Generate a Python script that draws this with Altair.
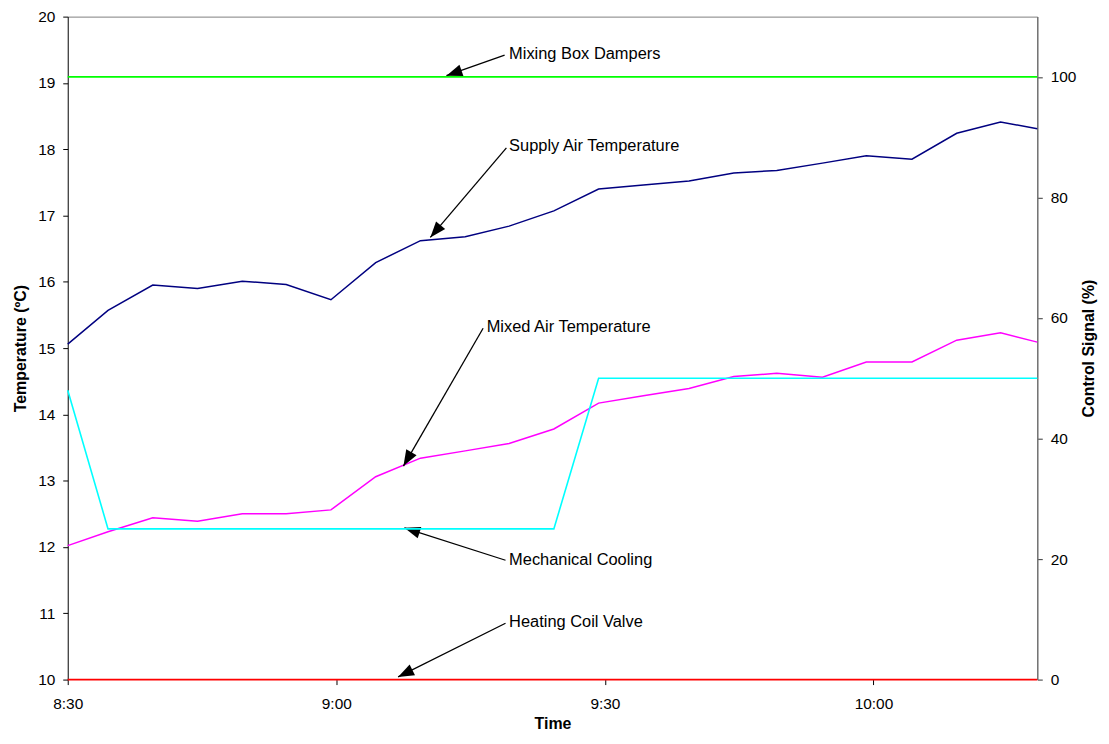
import altair as alt
import numpy as np
import pandas as pd

# ---------------- data ----------------
minutes = [0, 4.5, 9.5, 14.5, 19.5, 24.4, 29.4, 34.4, 39.4, 44.4, 49.3, 54.3,
           59.3, 64.3, 69.4, 74.4, 79.2, 84.3, 89.2, 94.3, 99.3, 104.2, 108.3]
supply = [15.06, 15.57, 15.95, 15.90, 16.01, 15.96, 15.73, 16.29, 16.62, 16.68, 16.84, 17.07,
          17.40, 17.46, 17.52, 17.64, 17.68, 17.79, 17.90, 17.85, 18.24, 18.41, 18.31]
mixed = [12.02, 12.23, 12.44, 12.39, 12.50, 12.50, 12.56, 13.06, 13.34, 13.45, 13.56, 13.78,
         14.17, 14.28, 14.39, 14.57, 14.62, 14.56, 14.79, 14.79, 15.12, 15.23, 15.09]
cooling = [48, 25, 25, 25, 25, 25, 25, 25, 25, 25, 25, 25,
           50, 50, 50, 50, 50, 50, 50, 50, 50, 50, 50]
dampers = [100, 100, 100, 100, 100, 100, 100, 100, 100, 100, 100, 100,
           100, 100, 100, 100, 100, 100, 100, 100, 100, 100, 100]
heating = [0, 0, 0, 0, 0, 0, 0, 0, 0, 0, 0, 0,
           0, 0, 0, 0, 0, 0, 0, 0, 0, 0, 0]

series_names = ["Supply Air Temperature", "Mixed Air Temperature",
                "Mixing Box Dampers", "Mechanical Cooling", "Heating Coil Valve"]
series_colors = ["#000080", "#FF00FF", "#00FF00", "#00FFFF", "#FF0000"]

ann_labels = ["Mixing Box Dampers", "Supply Air Temperature", "Mixed Air Temperature",
              "Mechanical Cooling", "Heating Coil Valve"]
ann_text_min = [49.3, 49.3, 46.8, 49.3, 49.3]
ann_text_temp = [19.44, 18.05, 15.32, 11.80, 10.87]
ann_tail_min = [48.8, 49.0, 46.4, 48.9, 48.9]
ann_tail_temp = [19.42, 18.02, 15.30, 11.80, 10.85]
ann_tip_min = [42.3, 40.5, 37.5, 37.6, 36.9]
ann_tip_temp = [19.11, 16.67, 13.22, 12.29, 10.04]

start_clock = "2000-01-01 08:30:00"
x_tick_minutes = [0, 30, 60, 90]
x_end_minute = 108.3
temp_domain = [10, 20]
temp_ticks = [10, 11, 12, 13, 14, 15, 16, 17, 18, 19, 20]
signal_domain = [0, 110]
signal_ticks = [0, 20, 40, 60, 80, 100]

# ---------------- layout ----------------
W, H = 974, 666
FONT = "Liberation Sans"

base = pd.Timestamp(start_clock)


def to_iso(m):
    return (base + pd.to_timedelta(m, unit="m")).strftime("%Y-%m-%dT%H:%M:%S")


def to_dt(m):
    ts = base + pd.to_timedelta(m, unit="m")
    return alt.DateTime(year=ts.year, month=ts.month, date=ts.day,
                        hours=ts.hour, minutes=ts.minute, seconds=ts.second)


times = [to_iso(m) for m in minutes]

left_df = pd.DataFrame({
    "t": times * 2,
    "value": supply + mixed,
    "series": [series_names[0]] * len(times) + [series_names[1]] * len(times),
})
right_df = pd.DataFrame({
    "t": times * 3,
    "value": dampers + cooling + heating,
    "series": [series_names[2]] * len(times) + [series_names[3]] * len(times)
    + [series_names[4]] * len(times),
})

# arrow-head angles in screen space
pxm = W / x_end_minute
pxt = H / (temp_domain[1] - temp_domain[0])
angles = []
for a, b, c, d in zip(ann_tail_min, ann_tail_temp, ann_tip_min, ann_tip_temp):
    dx = (c - a) * pxm
    dy = -(d - b) * pxt
    angles.append(float(np.degrees(np.arctan2(dx, -dy)) % 360))

ann_df = pd.DataFrame({
    "label": ann_labels,
    "t": [to_iso(m) for m in ann_text_min],
    "value": ann_text_temp,
    "ax": [to_iso(m) for m in ann_tail_min],
    "ay": ann_tail_temp,
    "bx": [to_iso(m) for m in ann_tip_min],
    "by": ann_tip_temp,
    "angle": angles,
})

x_domain = [to_dt(0), to_dt(x_end_minute)]
x_scale = alt.Scale(domain=x_domain, nice=False)
y_scale = alt.Scale(domain=temp_domain, nice=False, zero=False)
color = alt.Color("series:N", scale=alt.Scale(domain=series_names, range=series_colors),
                  legend=None)

x_axis = alt.Axis(values=[to_dt(m) for m in x_tick_minutes], format="%-H:%M", title="Time",
                  tickSize=5, labelPadding=12, titlePadding=4, labelFlush=False,
                  labelFontSize=15.5, titleFontSize=16, titleFontWeight="bold",
                  domain=False, tickColor="black", labelColor="black")
y_axis = alt.Axis(values=temp_ticks, format="d", title="Temperature (ºC)", tickSize=5,
                  labelPadding=8, titlePadding=9, labelFontSize=15.5,
                  titleFontSize=16, titleFontWeight="bold", domainColor="black",
                  tickColor="black", labelColor="black")

left_lines = alt.Chart(left_df).mark_line(strokeWidth=1.5).encode(
    x=alt.X("t:T", scale=x_scale, axis=x_axis, title="Time"),
    y=alt.Y("value:Q", scale=y_scale, axis=y_axis, title="Temperature (ºC)"),
    color=color,
    detail="series:N",
)

arrows = alt.Chart(ann_df).mark_rule(color="black", strokeWidth=1.3).encode(
    x=alt.X("ax:T", title="Time"), x2="bx:T",
    y=alt.Y("ay:Q", title="Temperature (ºC)"), y2="by:Q",
)
heads = alt.Chart(ann_df).mark_point(
    shape="M0,0L0.75,2L-0.75,2Z", filled=True, color="black", size=256, opacity=1,
    strokeWidth=0,
).encode(
    x=alt.X("bx:T", title="Time"),
    y=alt.Y("by:Q", title="Temperature (ºC)"),
    angle=alt.Angle("angle:Q", scale=None),
)
texts = alt.Chart(ann_df).mark_text(
    align="left", baseline="middle", font=FONT, fontSize=16.5, color="black",
).encode(
    x=alt.X("t:T", title="Time"),
    y=alt.Y("value:Q", title="Temperature (ºC)"),
    text="label:N",
)

left_layer = alt.layer(left_lines, arrows, heads, texts)

right_lines = alt.Chart(right_df).mark_line(strokeWidth=1.6).encode(
    x=alt.X("t:T", scale=x_scale,
            axis=alt.Axis(orient="top", labels=False, ticks=False, title=None,
                          domainColor="#808080", values=[to_dt(0)])),
    y=alt.Y("value:Q", scale=alt.Scale(domain=signal_domain, nice=False),
            axis=alt.Axis(orient="right", values=signal_ticks, title="Control Signal (%)",
                          titleAngle=270, tickSize=5, labelPadding=8, titlePadding=21,
                          labelFontSize=15.5, titleFontSize=16, titleFontWeight="bold",
                          domainColor="#707070", domainWidth=1.5, tickColor="#333333",
                          labelColor="black")),
    color=color,
    detail="series:N",
)

chart = alt.layer(left_layer, right_lines).resolve_scale(
    y="independent"
).resolve_axis(
    x="independent"
).properties(
    width=W, height=H,
    autosize=alt.AutoSizeParams(type="none"),
    padding={"left": 60, "top": 7, "right": 64, "bottom": 53},
).configure_axis(
    labelFont=FONT, titleFont=FONT, grid=False,
).configure_view(stroke=None)

chart.save("out.html", embed_options={"renderer": "svg", "actions": False})
